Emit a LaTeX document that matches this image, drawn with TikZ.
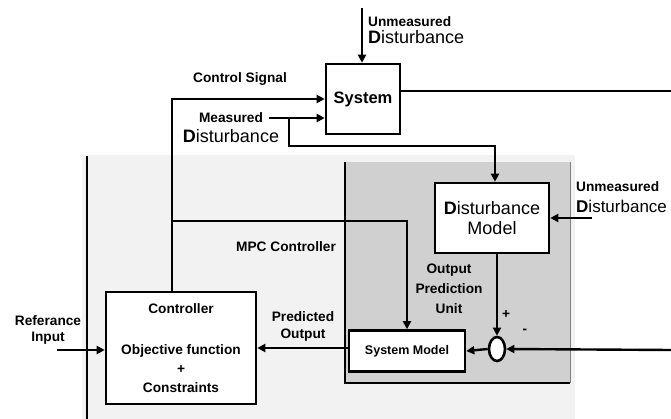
\documentclass[tikz,border=0pt]{standalone}
\usepackage{fontspec}
\setmainfont{Liberation Sans}
\usetikzlibrary{arrows.meta, shapes.geometric}
\newcommand{\Dword}{\textbf{D}isturbance}

\begin{document}
\begin{tikzpicture}[x=1pt, y=-1pt, >={Triangle[length=8pt,width=8pt]},
  blk/.style={draw, line width=2.6pt, fill=white, inner sep=0pt},
  conn/.style={line width=2.4pt},
  lbl/.style={font=\fontsize{13.7}{16}\selectfont\bfseries, align=center, inner sep=0pt}]
  \clip (0,0) rectangle (671,419);
  % shaded regions
  \fill[gray!10] (82,155) rectangle (575,419);
  \fill[gray!37] (345,162) rectangle (570,383);
  \draw[line width=1.3pt] (87,156) -- (87,419);
  \draw[line width=1.1pt] (345,162) -- (345,383) -- (570,383);
  \draw[line width=0.8pt, gray] (570,162) -- (570,383);
  % blocks
  \node[blk, minimum width=74pt, minimum height=70pt, font=\fontsize{16.5}{18}\selectfont\bfseries] (sys) at (363,99) {System};
  \node[blk, minimum width=114pt, minimum height=70pt, align=center, font=\fontsize{18}{20}\selectfont] (dm) at (492,218) {\Dword\\Model};
  \node[blk, minimum width=150pt, minimum height=112pt, align=center, font=\fontsize{13.7}{19}\selectfont\bfseries] (ctrl) at (181,348) {Controller\\[22pt]Objective function\\+\\Constraints};
  \node[blk, minimum width=116pt, minimum height=41pt, font=\fontsize{12.5}{14}\selectfont\bfseries] (sm) at (407,351) {System Model};
  \node[blk, ellipse, minimum width=16pt, minimum height=24pt] (sum) at (497,349) {};
  % free ends
  \coordinate (utop) at (362,8);
  \coordinate (cbr) at (172,221);
  \coordinate (meas) at (269,118);
  \coordinate (mbr) at (289,118);
  \coordinate (mdrop) at (289,146);
  \coordinate (yout) at (671,91);
  \coordinate (umr) at (592,218);
  \coordinate (yin) at (671,350);
  \coordinate (ref) at (57,350);
  % signal paths
  \draw[conn,->] (utop) -- (utop |- sys.north);
  \draw[conn,->] ([xshift=-9pt]ctrl.north) |- (sys.west);
  \draw[conn,->] (cbr) -| (sm.north);
  \draw[conn,->] (meas) -- (meas -| sys.west);
  \draw[conn,->] (mbr) -- (mdrop) -| ([xshift=3pt]dm.north);
  \draw[conn] (sys.east |- yout) -- (yout);
  \draw[conn,->] (umr) -- (dm.east);
  \draw[conn,->] (sum.north |- dm.south) -- (sum.north);
  \draw[conn,->] (yin) -- (sum.east);
  \draw[conn,->] (sum.west) -- (sm.east);
  \draw[conn,->] ([yshift=3pt]sm.west) -- ([yshift=3pt]sm.west -| ctrl.east);
  \draw[conn,->] (ref) -- (ref -| ctrl.west);
  % labels
  \node[lbl, anchor=west, align=left, font=\fontsize{13.7}{17.5}\selectfont\bfseries] (utl) at (368,30) {Unmeasured\\\fontsize{18}{18}\selectfont\mdseries\Dword};
  \node[lbl] (csl) at (240,79) {Control Signal};
  \node[lbl, font=\fontsize{13.7}{20}\selectfont\bfseries] (mdl) at (231,128) {Measured\\\fontsize{18}{18}\selectfont\mdseries\Dword};
  \node[lbl, anchor=west, align=left, font=\fontsize{13.7}{21}\selectfont\bfseries] (url) at (576,197) {Unmeasured\\\fontsize{17}{18}\selectfont\mdseries\Dword};
  \node[lbl] (mpcl) at (286,247) {MPC Controller};
  \node[lbl, font=\fontsize{13.7}{20}\selectfont\bfseries] (opul) at (449,289) {Output\\Prediction\\Unit};
  \node[lbl, font=\fontsize{13.7}{17}\selectfont\bfseries] (pol) at (303,326) {Predicted\\Output};
  \node[lbl] (refl) at (48,330) {Referance\\Input};
  \node[lbl] (plus) at (506,314) {+};
  \node[lbl] (minus) at (525,331) {-};
\end{tikzpicture}
\end{document}
